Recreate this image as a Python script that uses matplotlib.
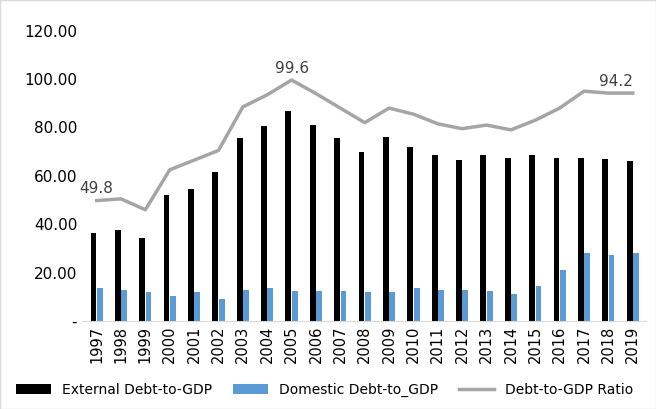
import matplotlib
matplotlib.use("Agg")
import matplotlib.pyplot as plt
import numpy as np

years = [str(y) for y in range(1997, 2020)]
external = [36.5,37.5,34.5,52,54.5,61.5,75.5,80.5,87,81,75.5,70,76,72,68.5,66.5,68.5,67.5,68.5,67.5,67.5,67,66]
domestic = [13.5,13,12,10.5,12,9,13,13.5,12.5,12.5,12.5,12,12,13.5,13,13,12.5,11,14.5,21,28,27.5,28]
ratio = [49.8,50.5,46,62.5,66.5,70.5,88.5,93.5,99.6,94,88,82,88,85.5,81.5,79.5,81,79,83,88,95,94.2,94.2]

fig = plt.figure(figsize=(6.56,4.09), dpi=100)
ax = fig.add_axes([0.125, 0.215, 0.86, 0.71])
x = np.arange(len(years))
w = 0.24
b1 = ax.bar(x-0.13, external, w, color='black', label='External Debt-to-GDP')
b2 = ax.bar(x+0.13, domestic, w, color='#5b9bd5', label='Domestic Debt-to_GDP')
l, = ax.plot(x, ratio, color='#a5a5a5', lw=2.5, label='Debt-to-GDP Ratio')
for i in [0, 8, 22]:
    ax.annotate(f"{ratio[i]:.1f}", (x[i], ratio[i]), xytext=(0,3), textcoords='offset points',
                ha='center' if i != 22 else 'right', va='bottom', fontsize=11, color='#404040')
ax.set_ylim(0,120)
ax.set_xlim(-0.6, len(years)-0.45)
ax.set_yticks(range(0,121,20))
ax.set_yticklabels(['-']+[f"{v:.2f}" for v in range(20,121,20)], fontsize=11)
ax.set_xticks(x)
ax.set_xticklabels(years, rotation=90, fontsize=10.5)
for s in ['top','right','left']:
    ax.spines[s].set_visible(False)
ax.spines['bottom'].set_color('#d9d9d9')
ax.tick_params(length=0)
ax.legend(handles=[b1, b2, l], loc='upper center', bbox_to_anchor=(0.43, -0.17), ncol=3, frameon=False, fontsize=10,
          handlelength=2.5, columnspacing=1.5)
fig.patches.append(plt.Rectangle((0,0),1,1, transform=fig.transFigure, fill=False, edgecolor='#d9d9d9', lw=1))
fig.savefig('out.png', dpi=100)
